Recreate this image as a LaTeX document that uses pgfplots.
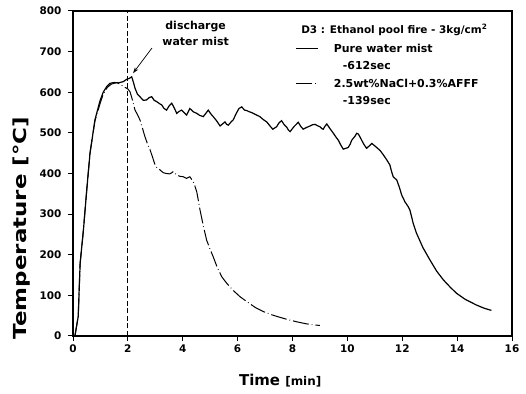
\documentclass[border=0pt]{standalone}
\usepackage{fontspec}
\setmainfont{DejaVu Sans}
\usepackage{pgfplots}
\pgfplotsset{compat=1.18}
\usetikzlibrary{arrows.meta}
\pgfplotsset{mylegimg/.style={legend image code/.code={\draw[#1] (0bp,0bp) -- (22bp,0bp);}}}

\pgfplotstableread{
t T
0.07 0
0.19 48
0.26 179
0.38 261
0.5 359
0.62 450
0.8 532
0.98 578
1.1 600
1.23 614
1.35 622
1.5 624
1.65 623
1.83 626
1.96 632
2.05 634
2.14 638
2.2 625
2.26 610
2.35 595
2.44 589
2.56 580
2.68 581
2.78 587
2.87 589
2.96 580
3.05 577
3.15 572
3.23 569
3.32 560
3.41 556
3.5 566
3.6 573
3.7 560
3.78 548
3.87 553
3.96 556
4.05 550
4.14 544
4.2 552
4.26 560
4.38 552
4.51 548
4.62 543
4.75 540
4.84 548
4.93 556
5.02 547
5.11 540
5.23 530
5.36 517
5.45 522
5.54 527
5.6 521
5.66 519
5.75 526
5.84 532
5.95 548
6.05 560
6.15 564
6.25 556
6.33 555
6.42 552
6.51 550
6.66 545
6.81 540
6.93 533
7.06 527
7.18 517
7.28 509
7.35 512
7.42 515
7.5 524
7.6 530
7.7 520
7.79 514
7.85 507
7.91 503
8.05 515
8.21 526
8.3 516
8.39 509
8.5 513
8.64 517
8.73 520
8.82 521
8.9 518
9.0 515
9.06 511
9.12 509
9.18 516
9.25 522
9.37 510
9.49 499
9.58 490
9.67 482
9.76 470
9.85 460
9.94 462
10.03 464
10.1 472
10.16 482
10.28 492
10.34 499
10.4 497
10.46 490
10.52 482
10.6 472
10.7 462
10.8 468
10.89 474
10.98 469
11.07 464
11.2 456
11.31 446
11.43 434
11.55 421
11.61 405
11.67 392
11.8 384
11.9 365
11.98 347
12.1 330
12.22 318
12.28 310
12.4 277
12.52 253
12.75 218
13.01 187
13.25 160
13.5 138
13.75 120
13.98 105
14.3 90
14.71 76
15.0 68
15.25 63
}\purewater

\pgfplotstableread{
t T
0.07 0
0.19 48
0.26 179
0.38 261
0.5 359
0.62 450
0.8 530
1.0 575
1.1 595
1.25 612
1.4 620
1.6 624
1.75 618
1.9 612
2.0 608
2.08 601
2.17 580
2.26 556
2.35 545
2.44 532
2.53 512
2.62 491
2.72 472
2.81 458
2.9 440
2.99 421
3.05 415
3.11 413
3.2 407
3.29 402
3.4 400
3.53 399
3.6 402
3.66 405
3.72 400
3.78 396
3.9 393
4.02 392
4.14 388
4.2 390
4.26 392
4.33 385
4.41 376
4.51 355
4.57 333
4.63 310
4.75 271
4.87 236
5.0 213
5.11 195
5.25 170
5.42 146
5.6 130
5.84 112
6.1 96
6.39 82
6.65 70
6.94 60
7.25 52
7.54 46
7.85 40
8.15 35
8.5 30
8.8 27
9.0 26
}\nacl

\begin{document}
\begin{tikzpicture}
\begin{axis}[name=ax,
  scale only axis, width=439bp, height=325bp,
  xmin=0, xmax=16, ymin=0, ymax=800,
  xtick={0,2,...,16}, ytick={0,100,...,800},
  tick align=outside, tick pos=left, major tick length=5bp,
  axis line style={line width=1.3bp},
  every tick/.style={black, line width=1bp},
  /pgf/number format/assume math mode=true,
  ticklabel style={font=\bfseries\fontsize{10.5}{12}\selectfont},
  yticklabel style={xshift=-3bp},
  xlabel={\bfseries\fontsize{15}{18}\selectfont Time \fontsize{12}{14}\selectfont[min]},
  xlabel style={at={(rel axis cs:0.472,-0.138)}, anchor=center},
  ylabel={\scalebox{1.28}[1]{\bfseries\fontsize{18}{20}\selectfont Temperature [°C]}},
  ylabel style={at={(rel axis cs:-0.117,0.332)}, anchor=center},
  clip=false,
  legend style={draw=none, fill=none, at={(rel axis cs:0.5,0.912)}, anchor=north west,
    font=\bfseries\fontsize{11}{13}\selectfont, cells={anchor=west}, row sep=3.9bp},
]
\addplot[black, line width=1.1bp, dash pattern=on 5bp off 2.5bp, forget plot] coordinates {(2,0) (2,800)};
\addplot[black, line width=1.2bp, mylegimg] table[x=t,y=T] {\purewater};
\addlegendentry{\hspace*{13bp}Pure water mist}
\addlegendimage{empty legend}
\addlegendentry{\hspace*{22bp}-612sec}
\addplot[black, line width=1bp, dash pattern=on 16bp off 3bp on 0.7bp off 3bp, mylegimg] table[x=t,y=T] {\nacl};
\addlegendentry{\hspace*{13bp}2.5wt\%NaCl+0.3\%AFFF}
\addlegendimage{empty legend}
\addlegendentry{\hspace*{22bp}-139sec}
\draw[-{Stealth[length=6bp,width=4bp]}, line width=0.7bp] (axis cs:2.88,709) -- (axis cs:2.19,647);
\node[align=center, font=\bfseries\fontsize{11}{16}\selectfont] at (axis cs:4.47,744) {discharge\\water mist};
\node[anchor=base west, font=\bfseries\fontsize{10.5}{12}\selectfont] at (rel axis cs:0.512,0.932) {D3 : Ethanol pool fire - 3kg/cm\textsuperscript{2}};
\end{axis}
\pgfresetboundingbox
\path ([shift={(-73bp,-58bp)}]ax.south west) rectangle ([shift={(14bp,11bp)}]ax.north east);
\end{tikzpicture}
\end{document}
